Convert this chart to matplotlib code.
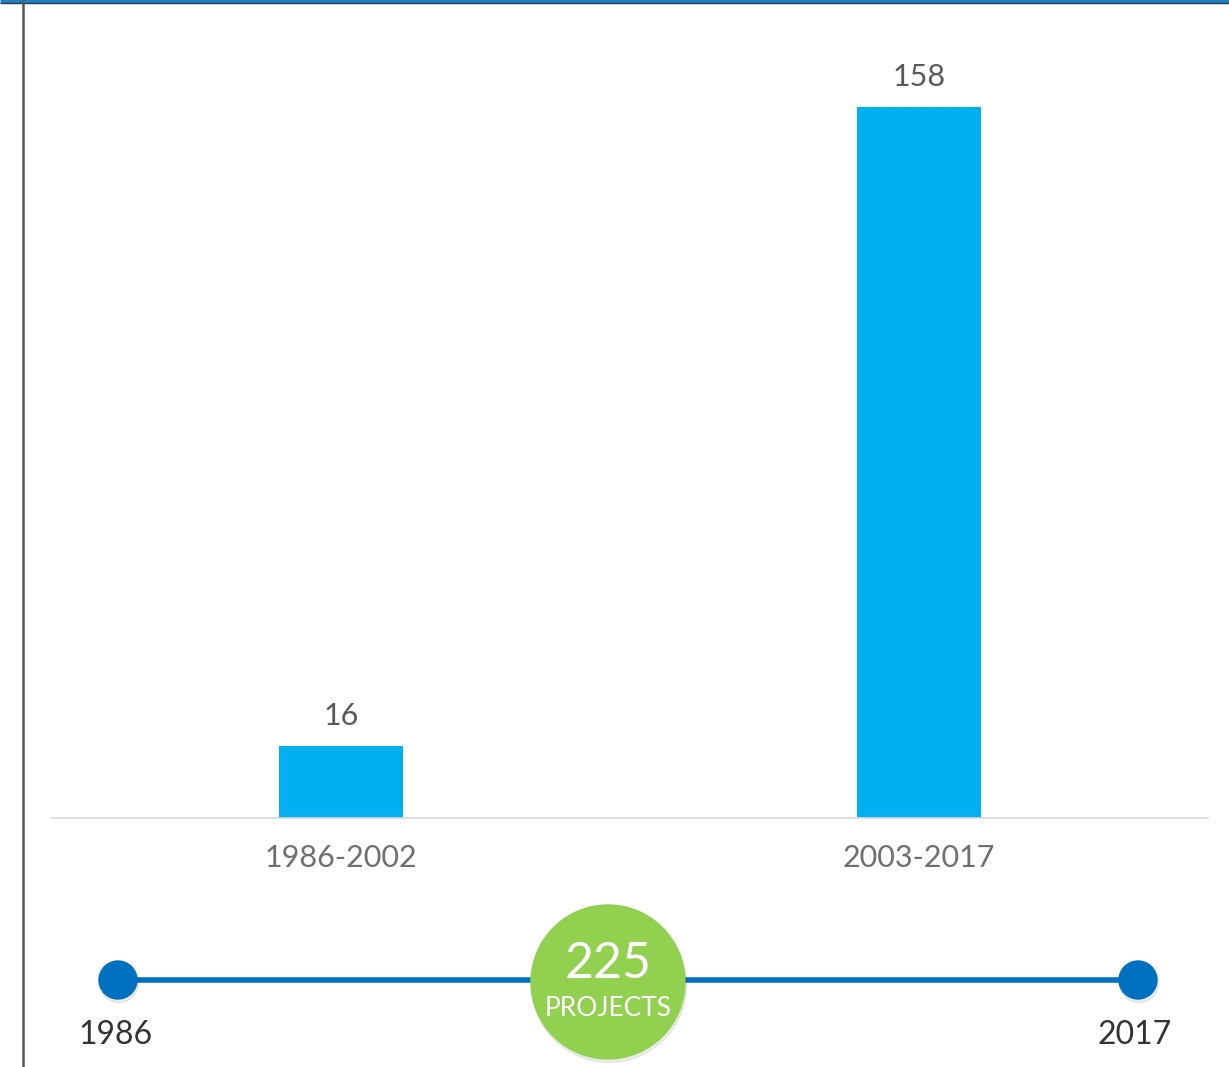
import matplotlib.pyplot as plt
from matplotlib.patches import Circle

# Данные
periods = ["1986-2002", "2003-2017"]
projects = [16, 158]
years = ["1986", "2017"]
total_label = "225"
total_unit = "PROJECTS"

plt.rcParams['font.family'] = ['Lato', 'DejaVu Sans']

W, H = 1229, 1067
fig = plt.figure(figsize=(W / 100, H / 100), dpi=100)

# Основная диаграмма (в пикселях: x 52..1208, y 818 снизу)
ax = fig.add_axes([52 / W, 1 - 818 / H, 1156 / W, 808 / H])
ax.bar(range(len(periods)), projects, width=0.2145, color="#00b0f0")
ax.set_xlim(-0.5, 1.5)
ax.set_ylim(0, 808 / 4.5)
for i, v in enumerate(projects):
    ax.text(i, v + 6.6, str(v), ha="center", va="center", fontsize=22, color="#595959")
ax.set_xticks(range(len(periods)))
ax.set_xticklabels(periods, fontsize=22, color="#6d6f71")
ax.tick_params(axis="x", length=0, pad=19)
ax.set_yticks([])
for s in ["top", "right", "left"]:
    ax.spines[s].set_visible(False)
ax.spines["bottom"].set_color("#d9d9d9")
ax.spines["bottom"].set_linewidth(1.2)

# Слой с временной шкалой и рамкой в пиксельных координатах
ov = fig.add_axes([0, 0, 1, 1], zorder=-1)
ov.set_xlim(0, W)
ov.set_ylim(H, 0)
ov.axis("off")

ov.plot([0, W], [1, 1], color="#1f7fc8", lw=2.4, solid_capstyle="butt")
ov.plot([0, W], [3, 3], color="#2b3a4a", lw=1.0, solid_capstyle="butt")
ov.plot([22.5, 22.5], [0, H], color="#555555", lw=1.8, solid_capstyle="butt")

x0, x1, yl = 118, 1138, 980
ov.plot([x0, x1], [yl, yl], color="#0070c0", lw=4, zorder=2)
for x, year in zip([x0, x1], years):
    ov.add_patch(Circle((x + 1, yl + 3), 19.5, color="#000000", alpha=0.07, zorder=2))
    ov.add_patch(Circle((x, yl), 19, color="#0070c0", zorder=3))
    ov.text(x - 3, 1035, year, ha="center", va="center", fontsize=23, color="#333333")

cx, cy = 608, 982
ov.add_patch(Circle((cx + 1, cy + 3), 77.5, color="#000000", alpha=0.07, zorder=3))
ov.add_patch(Circle((cx, cy), 77, color="#92d050", zorder=4))
ov.text(cx, 964, total_label, ha="center", va="center", fontsize=36, color="white", zorder=5)
ov.text(cx, 1009, total_unit, ha="center", va="center", fontsize=19, color="white", zorder=5)

fig.savefig("out.png", dpi=100, facecolor="white")
